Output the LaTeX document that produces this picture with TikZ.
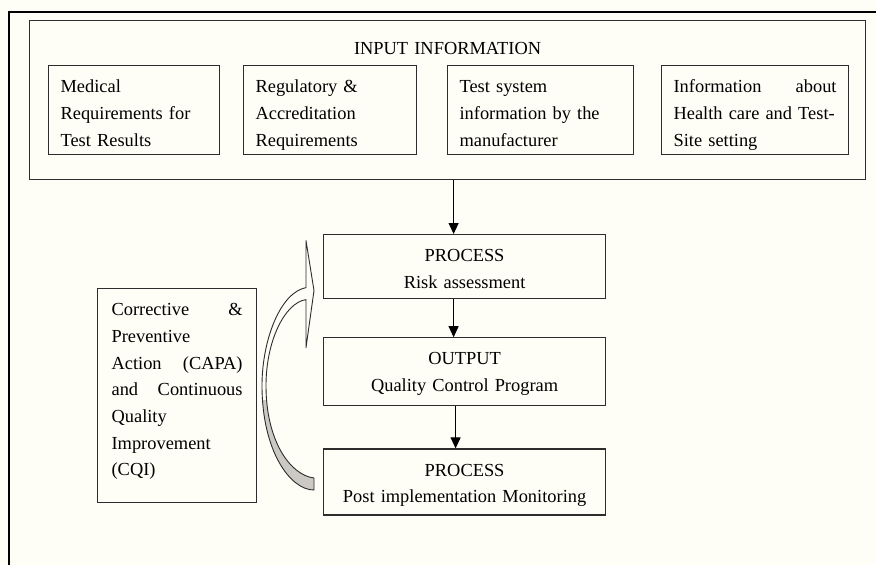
\documentclass[tikz,border=0pt]{standalone}
\usepackage{fontspec}
\setmainfont{Liberation Serif}
\usetikzlibrary{positioning, calc, arrows.meta}
\definecolor{paper}{RGB}{254,254,246}
\definecolor{boxgray}{RGB}{45,45,45}
\definecolor{backgray}{RGB}{204,200,196}
\newcommand{\bodyfont}{\fontsize{18.4}{26.7}\selectfont}
\newcommand{\capaloop}{(tailbot) .. controls +(-24,0) and +(0,65) .. (outerleft)
  .. controls +(0,-45) and +(-26,5) .. (neckup) -- (barbtop) -- (tip) -- (barbbot) -- (necklow)
  .. controls +(-21,3) and +(0,-45) .. (innerleft)
  .. controls +(0,55) and +(-24,-3) .. (tailtop) -- cycle}

\begin{document}
\begin{tikzpicture}[
    x=1pt, y=-1pt,
    box/.style={draw=boxgray, line width=1.2pt, inner ysep=0pt, text height=27pt, font=\bodyfont},
    inbox/.style={box, anchor=north west, inner xsep=12pt, align=left},
    midbox/.style={box, inner xsep=0pt, text width=282pt, align=center},
    arrow/.style={-{Triangle[length=11pt, width=10pt]}, line width=1pt},
    loopband/.style={draw=boxgray, line width=0.9pt, line join=round}
  ]
  \useasboundingbox (0,0) rectangle (876,565);
  \fill[paper] (0,0) rectangle (876,565);
  \draw[line width=2.4pt] (9,565) -- (9,12) -- (876,12);

  % INPUT INFORMATION
  \node[box, anchor=north west, inner xsep=0pt, text width=836pt, align=center, text height=34pt, text depth=125pt] (input) at (29,20) {INPUT INFORMATION};
  \node[inbox, text width=147pt, text depth=62pt] (medical) at (48,65) {Medical\\Requirements for\\Test Results};
  \node[inbox, text width=149pt, text depth=62pt] (regulatory) at (243,65) {Regulatory \&\\Accreditation\\Requirements};
  \node[inbox, text width=162pt, text depth=62pt] (testsystem) at (447,65) {Test system\\information by the\\manufacturer};
  \node[inbox, text width=163pt, text depth=62pt] (healthcare) at (661,65) {Information\hfill about\\Health care and Test-\\Site setting};

  % PROCESS / OUTPUT chain
  \node[midbox, anchor=north west, text depth=37pt] (process) at (323,234) {PROCESS\\Risk assessment};
  \node[midbox, below=38pt of process, text depth=41pt] (output) {OUTPUT\\Quality Control Program};
  \node[midbox, below=42pt of output, text depth=39pt] (post) {PROCESS\\Post implementation Monitoring};

  % CAPA / CQI
  \node[inbox, inner xsep=14pt, text width=131pt, text depth=187pt] (capa) at (97,288) {Corrective\hfill\&\\Preventive\\Action\hfill(CAPA)\\and\hfill Continuous\\Quality\\Improvement\\(CQI)};

  %%% MAIN VERTICAL FLOW
  \draw[arrow] ([xshift=-11pt]process.north |- input.south) -- ([xshift=-11pt]process.north);
  \draw[arrow] ([xshift=-11pt]process.south) -- ([xshift=-11pt]output.north);
  \draw[arrow] ([xshift=-9pt]output.south) -- ([xshift=-9pt]post.north);

  %%% FEEDBACK LOOP
  \coordinate (tailtop) at ($(post.west)+(-9,-4)$);
  \coordinate (tailbot) at ($(post.west)+(-9,8)$);
  \coordinate (tip) at ($(process.west)+(-9,24)$);
  \coordinate (barbtop) at ($(process.west)+(-17,-26)$);
  \coordinate (barbbot) at ($(process.west)+(-17,81)$);
  \coordinate (neckup) at ($(process.west)+(-17,21)$);
  \coordinate (necklow) at ($(process.west)+(-17,33)$);
  \coordinate (outerleft) at ($(process.west)+(-61,119)$);
  \coordinate (innerleft) at ($(process.west)+(-57,119)$);
  \begin{scope}
    \clip (200,400) rectangle (330,500);
    \fill[backgray] \capaloop;
  \end{scope}
  \draw[loopband] \capaloop;
\end{tikzpicture}
\end{document}
